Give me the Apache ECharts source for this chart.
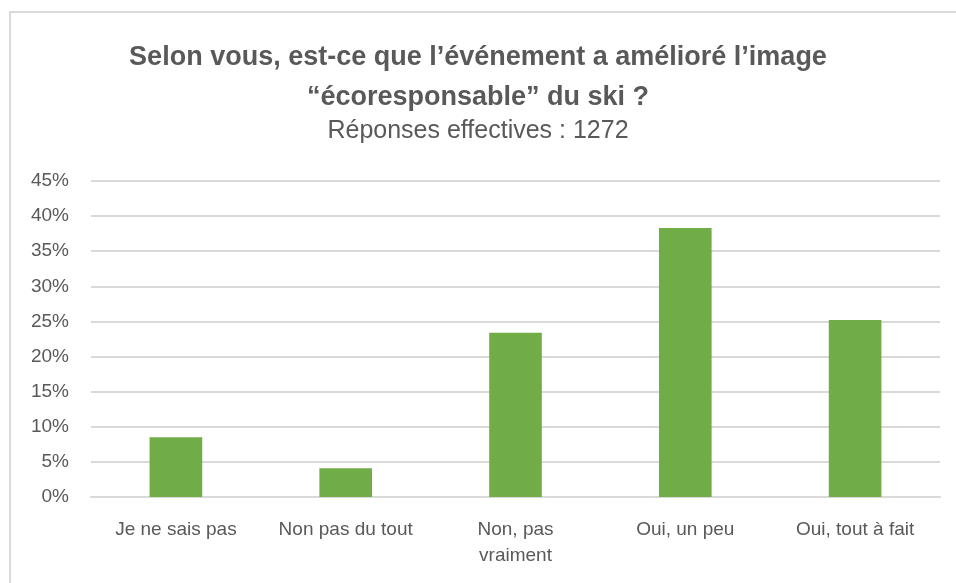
<!DOCTYPE html>
<html>
<head>
<meta charset="utf-8">
<script src="https://cdn.jsdelivr.net/npm/echarts@6/dist/echarts.min.js"></script>
<style>
  html, body { margin: 0; padding: 0; background: #fff; }
  #chart { width: 956px; height: 583px; }
</style>
</head>
<body>
<div id="chart"></div>
<script>
  // data
  var categories = ['Je ne sais pas', 'Non pas du tout', 'Non, pas\nvraiment', 'Oui, un peu', 'Oui, tout à fait'];
  var values = [8.5, 4.1, 23.4, 38.3, 25.2];
  var titleText = 'Selon vous, est-ce que l\u2019événement a amélioré l\u2019image\n\u201cécoresponsable\u201d du ski ?';
  var subText = 'Réponses effectives : 1272';

  var font = 'Liberation Sans Narrow, Liberation Sans, sans-serif';
  var chart = echarts.init(document.getElementById('chart'));

  chart.setOption({
    animation: false,
    backgroundColor: '#fff',
    title: {
      text: titleText,
      subtext: subText,
      left: 'center',
      top: 33,
      itemGap: 1,
      textStyle: { fontFamily: font, fontSize: 27, fontWeight: 'bold', color: '#595959', lineHeight: 40 },
      subtextStyle: { fontFamily: font, fontSize: 25, color: '#595959' }
    },
    graphic: [{
      type: 'polyline',
      shape: { points: [[10, 600], [10, 12], [960, 12]] },
      style: { stroke: '#d9d9d9', lineWidth: 2, fill: null }
    }],
    grid: { left: 91, right: 16, top: 181, bottom: 86 },
    xAxis: {
      type: 'category',
      data: categories,
      axisTick: { show: false },
      axisLine: { lineStyle: { color: '#d9d9d9', width: 2 } },
      axisLabel: { fontFamily: font, fontSize: 19, color: '#595959', margin: 20, lineHeight: 26, interval: 0 }
    },
    yAxis: {
      type: 'value',
      min: 0,
      max: 45,
      interval: 5,
      axisLine: { show: false },
      axisTick: { show: false },
      splitLine: { lineStyle: { color: '#d9d9d9', width: 2 } },
      axisLabel: { fontFamily: font, fontSize: 19, color: '#595959', margin: 22, formatter: '{value}%' }
    },
    series: [{
      type: 'bar',
      data: values,
      barWidth: '31%',
      itemStyle: { color: '#70ad47' }
    }]
  });
</script>
</body>
</html>
